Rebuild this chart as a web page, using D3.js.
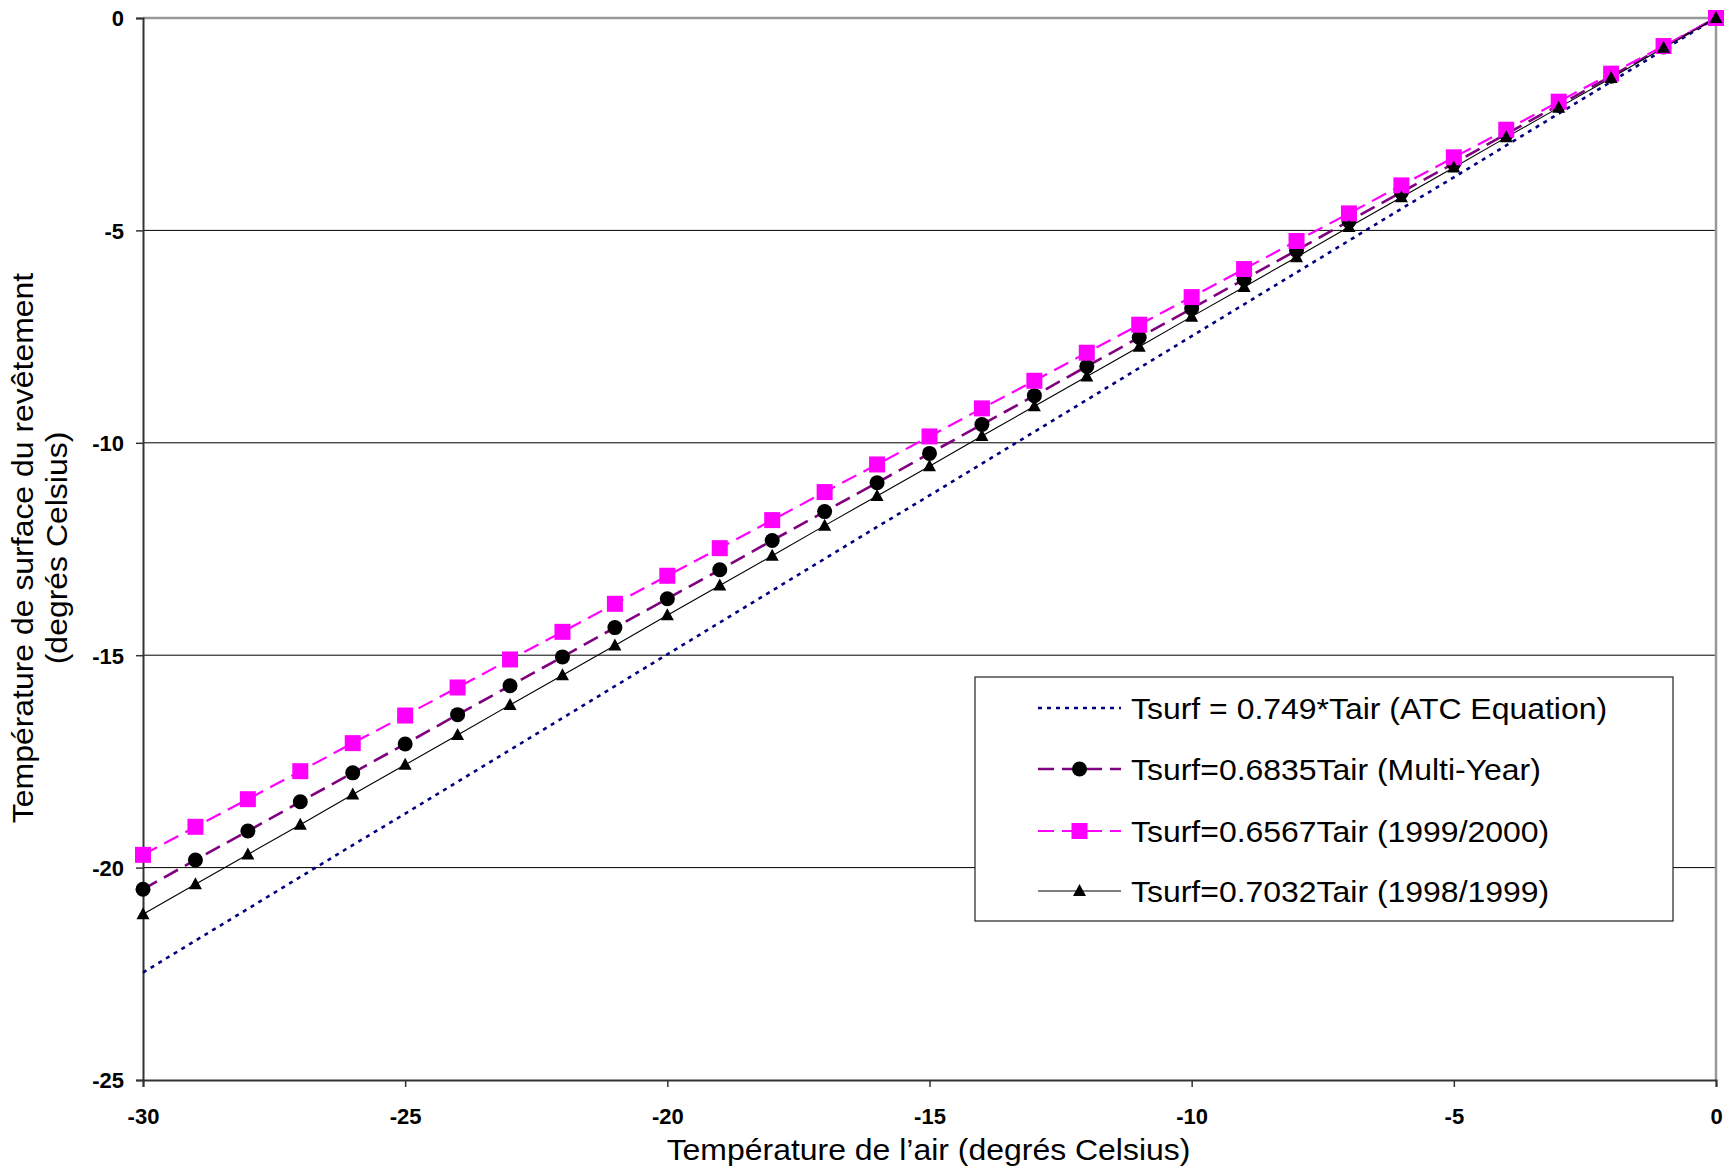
<!DOCTYPE html>
<html>
<head>
<meta charset="utf-8">
<script src="https://cdn.jsdelivr.net/npm/d3@7"></script>
<style>
  html, body { margin: 0; padding: 0; background: #fff; }
  svg { display: block; font-family: "Liberation Sans", Arial, sans-serif; }
</style>
</head>
<body>
<svg id="chart" width="1732" height="1176"></svg>
<script>
// ---- data ----
const tair = [-30,-29,-28,-27,-26,-25,-24,-23,-22,-21,-20,-19,-18,-17,-16,-15,-14,-13,-12,-11,-10,-9,-8,-7,-6,-5,-4,-3,-2,-1,0];
const atc = [-22.47,-21.72,-20.97,-20.22,-19.47,-18.73,-17.98,-17.23,-16.48,-15.73,-14.98,-14.23,-13.48,-12.73,-11.98,-11.24,-10.49,-9.74,-8.99,-8.24,-7.49,-6.74,-5.99,-5.24,-4.49,-3.75,-3.00,-2.25,-1.50,-0.75,0];
const multiYear = [-20.51,-19.82,-19.14,-18.45,-17.77,-17.09,-16.40,-15.72,-15.04,-14.35,-13.67,-12.99,-12.30,-11.62,-10.94,-10.25,-9.57,-8.89,-8.20,-7.52,-6.84,-6.15,-5.47,-4.78,-4.10,-3.42,-2.73,-2.05,-1.37,-0.68,0];
const y19992000 = [-19.70,-19.04,-18.39,-17.73,-17.07,-16.42,-15.76,-15.10,-14.45,-13.79,-13.13,-12.48,-11.82,-11.16,-10.51,-9.85,-9.19,-8.54,-7.88,-7.22,-6.57,-5.91,-5.25,-4.60,-3.94,-3.28,-2.63,-1.97,-1.31,-0.66,0];
const y19981999 = [-21.10,-20.39,-19.69,-18.99,-18.28,-17.58,-16.88,-16.17,-15.47,-14.77,-14.06,-13.36,-12.66,-11.95,-11.25,-10.55,-9.84,-9.14,-8.44,-7.74,-7.03,-6.33,-5.63,-4.92,-4.22,-3.52,-2.81,-2.11,-1.41,-0.70,0];
const seriesNames = ["Tsurf = 0.749*Tair (ATC Equation)","Tsurf=0.6835Tair (Multi-Year)","Tsurf=0.6567Tair (1999/2000)","Tsurf=0.7032Tair (1998/1999)"];
const xTicks = [-30,-25,-20,-15,-10,-5,0];
const yTicks = [0,-5,-10,-15,-20,-25];
const xTitle = "Température de l’air (degrés Celsius)";
const yTitle = ["Température de surface du revêtement","(degrés Celsius)"];

// ---- styles ----
const styles = [
  {color:"#000080", width:2.6, dash:"4,5", marker:null},
  {color:"#800080", width:2.6, dash:"16,8", marker:"circle"},
  {color:"#FF00FF", width:2.2, dash:"16,8", marker:"square"},
  {color:"#000000", width:1.1, dash:null, marker:"triangle"}
];
const seriesVals = [atc, multiYear, y19992000, y19981999];
const STRETCH = 1.065;

const svg = d3.select("#chart");
const L = 143, R = 1716, T = 18, B = 1080;
const x = d3.scaleLinear().domain([-30,0]).range([L,R]);
const y = d3.scaleLinear().domain([-25,0]).range([B,T]);

// gridlines
svg.append("g").selectAll("line").data(yTicks.filter(v => v !== 0 && v !== -25)).join("line")
  .attr("x1", L).attr("x2", R).attr("y1", d => y(d)).attr("y2", d => y(d))
  .attr("stroke", "#000").attr("stroke-width", 1);

// top and right border
svg.append("line").attr("x1", L).attr("x2", R).attr("y1", T).attr("y2", T).attr("stroke", "#999").attr("stroke-width", 2.5);
svg.append("line").attr("x1", R).attr("x2", R).attr("y1", T).attr("y2", B).attr("stroke", "#999").attr("stroke-width", 2.5);

// axes
const fmt = d => String(d);
const yAxis = d3.axisLeft(y).tickValues(yTicks).tickSize(7).tickPadding(12).tickFormat(fmt);
const xAxis = d3.axisBottom(x).tickValues(xTicks).tickSize(7).tickPadding(21).tickFormat(fmt);
const gy = svg.append("g").attr("transform", `translate(${L},0)`).call(yAxis);
const gx = svg.append("g").attr("transform", `translate(0,${B})`).call(xAxis);
[gx, gy].forEach(g => {
  g.select(".domain").attr("stroke", "#333").attr("stroke-width", 2);
  g.selectAll(".tick line").attr("stroke", "#333").attr("stroke-width", 1.5);
  g.selectAll(".tick text").attr("fill", "#000").style("font-size", "22px").style("font-weight", "bold")
   .style("font-family", "'Liberation Sans', Arial, sans-serif");
});
gy.selectAll(".tick text").attr("dy", "0.36em");
gx.selectAll(".tick text").attr("dy", "0.72em");

// lines
const lineGen = vals => d3.line().x((d,i) => x(tair[i])).y(d => y(d))(vals);
const plot = svg.append("g");
seriesVals.forEach((vals, si) => {
  const st = styles[si];
  plot.append("path").attr("d", lineGen(vals)).attr("fill", "none")
    .attr("stroke", st.color).attr("stroke-width", st.width)
    .attr("stroke-dasharray", st.dash);
});

function drawMarker(g, type, cx, cy) {
  if (type === "circle") {
    g.append("circle").attr("cx", cx).attr("cy", cy).attr("r", 7.5).attr("fill", "#000");
  } else if (type === "square") {
    g.append("rect").attr("x", cx-8).attr("y", cy-8).attr("width", 16).attr("height", 16).attr("fill", "#FF00FF");
  } else if (type === "triangle") {
    g.append("path").attr("d", `M${cx},${cy-7}L${cx+6.5},${cy+5}L${cx-6.5},${cy+5}Z`).attr("fill", "#000");
  }
}
// markers, in series order
seriesVals.forEach((vals, si) => {
  const st = styles[si];
  if (!st.marker) return;
  const g = svg.append("g");
  vals.forEach((v, i) => drawMarker(g, st.marker, x(tair[i]), y(v)));
});

// legend
const lg = svg.append("g");
lg.append("rect").attr("x", 975).attr("y", 677).attr("width", 698).attr("height", 244)
  .attr("fill", "#fff").attr("stroke", "#222").attr("stroke-width", 1.2);
const rowY = [708, 769, 831, 891];
seriesNames.forEach((name, si) => {
  const st = styles[si];
  const cy = rowY[si];
  lg.append("line").attr("x1", 1038).attr("x2", 1121).attr("y1", cy).attr("y2", cy)
    .attr("stroke", st.color).attr("stroke-width", st.width).attr("stroke-dasharray", st.dash);
  if (st.marker) drawMarker(lg, st.marker, 1079.5, cy);
  lg.append("text").attr("transform", `translate(1131,${cy + 10.5}) scale(${STRETCH},1)`).text(name)
    .style("font-size", "30px").attr("fill", "#000");
});

// axis titles
svg.append("text").attr("transform", `translate(${(L+R)/2 - 1},1160) scale(${STRETCH},1)`).attr("text-anchor", "middle")
  .style("font-size", "30px").text(xTitle);
const yt = svg.append("text").attr("transform", `translate(0,548) rotate(-90) scale(${STRETCH},1)`).attr("text-anchor", "middle")
  .style("font-size", "30px");
yt.append("tspan").attr("x", 0).attr("y", 33).text(yTitle[0]);
yt.append("tspan").attr("x", 0).attr("y", 67).text(yTitle[1]);
</script>
</body>
</html>
